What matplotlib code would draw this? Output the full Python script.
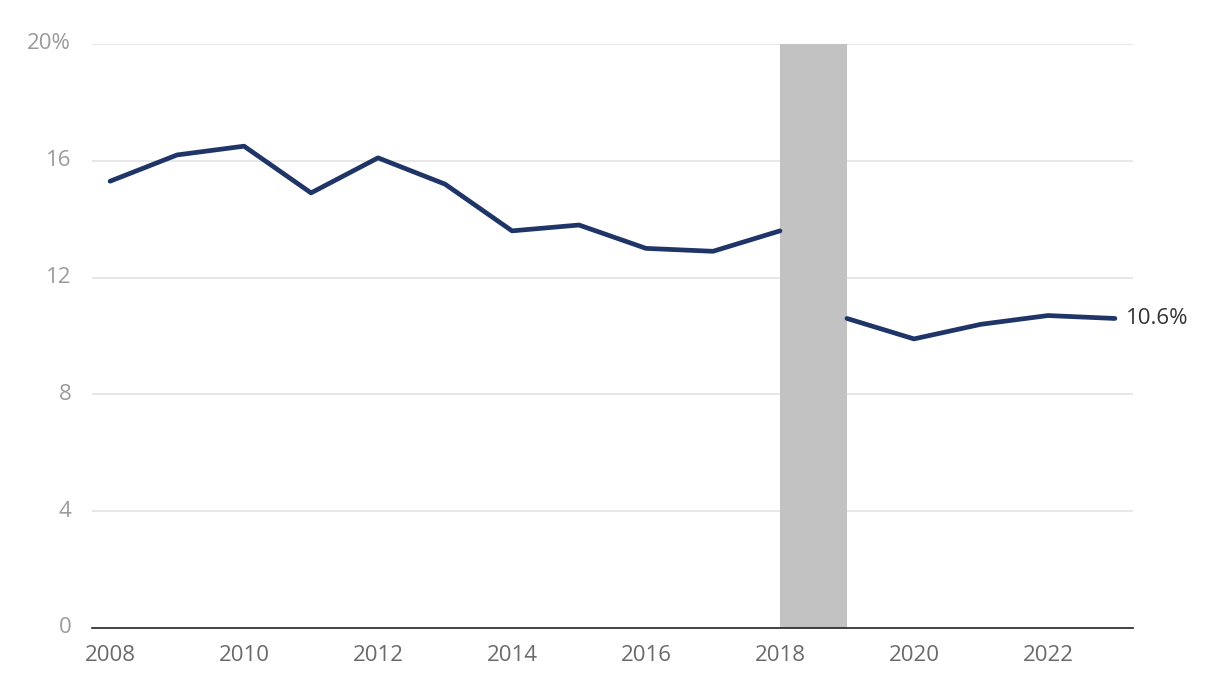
import matplotlib
matplotlib.use("Agg")
import matplotlib.pyplot as plt
import numpy as np

years_a = [2008, 2009, 2010, 2011, 2012, 2013, 2014, 2015, 2016, 2017, 2018]
vals_a = [15.3, 16.2, 16.5, 14.9, 16.1, 15.2, 13.6, 13.8, 13.0, 12.9, 13.6]
years_b = [2019, 2020, 2021, 2022, 2023]
vals_b = [10.6, 9.9, 10.4, 10.7, 10.6]
band = (2018, 2019)
yticks = [0, 4, 8, 12, 16, 20]
ytick_labels = ["0", "4", "8", "12", "16", "20%"]
xticks = [2008, 2010, 2012, 2014, 2016, 2018, 2020, 2022]
end_label = "10.6%"

plt.rcParams['font.family'] = ['Open Sans', 'DejaVu Sans']

fig = plt.figure(figsize=(12.2, 6.98), dpi=100)
ax = fig.add_axes([0.0754, 0.1003, 0.8533, 0.8367])

line_color = "#1f3568"
ax.axvspan(band[0], band[1], color="#c2c2c2", zorder=1, lw=0)
ax.plot(years_a, vals_a, color=line_color, lw=3.4, solid_capstyle="round", solid_joinstyle="round", zorder=3)
ax.plot(years_b, vals_b, color=line_color, lw=3.4, solid_capstyle="round", solid_joinstyle="round", zorder=3)
ax.text(years_b[-1] + 0.16, vals_b[-1], end_label, va="center", ha="left", fontsize=16, color="#333333")

ax.set_xlim(2007.73, 2023.27)
ax.set_ylim(0, 20)
ax.set_yticks(yticks)
ax.set_yticklabels(ytick_labels)
ax.set_xticks(xticks)
ax.set_xticklabels([str(x) for x in xticks])

for y in yticks[1:]:
    ax.axhline(y, color="#e3e3e3", lw=1.2, zorder=0)

for s in ["top", "right", "left"]:
    ax.spines[s].set_visible(False)
ax.spines["bottom"].set_color("#222222")
ax.spines["bottom"].set_linewidth(1.2)
ax.spines["bottom"].set_zorder(4)

ax.tick_params(axis="y", length=0, pad=15, labelsize=16, labelcolor="#9a9a9a")
ax.tick_params(axis="x", length=0, pad=12, labelsize=16, labelcolor="#6a6a6a")
for lbl in ax.get_yticklabels():
    lbl.set_verticalalignment("center")

fig.savefig("out.png", dpi=100)
